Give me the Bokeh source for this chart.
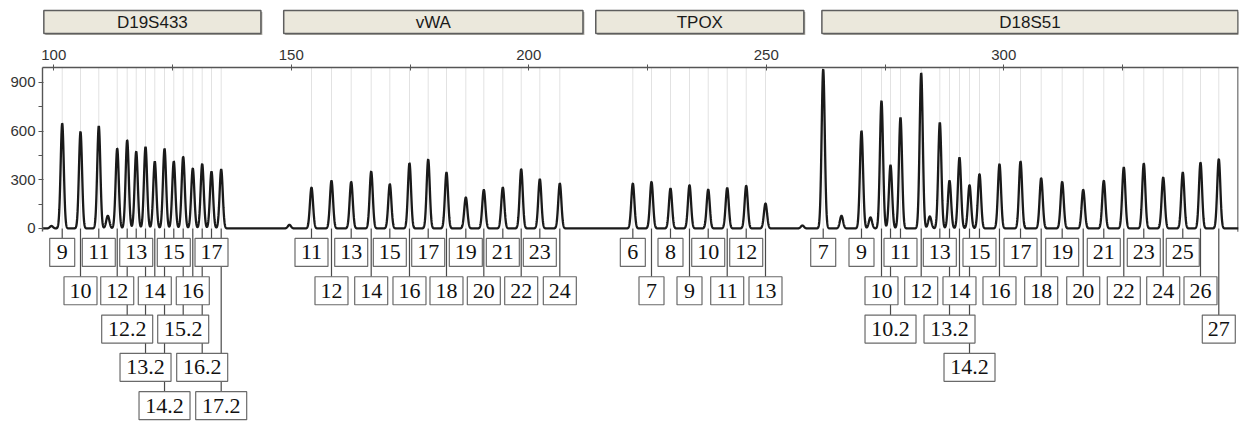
import numpy as np
from bokeh.plotting import figure
from bokeh.layouts import column
from bokeh.models import Range1d, FixedTicker
from bokeh.core.properties import value
from bokeh.embed import file_html
from bokeh.resources import INLINE

# ---------------- data ----------------
loci = ["D19S433", "vWA", "TPOX", "D18S51"]
locus_start = [97.9, 148.4, 214.1, 261.7]
locus_end = [143.6, 211.4, 257.9, 349.3]

d19_alleles = ["9", "10", "11", "12", "12.2", "13", "13.2", "14", "14.2", "15", "15.2", "16", "16.2", "17", "17.2"]
d19_sizes = [101.77, 105.62, 109.47, 113.35, 115.45, 117.35, 119.31, 121.26, 123.31, 125.26, 127.24, 129.26, 131.24, 133.2, 135.24]
d19_heights = [647, 596, 631, 493, 544, 474, 503, 413, 491, 413, 442, 370, 397, 351, 364]
d19_rows = [1, 2, 1, 2, 3, 1, 4, 2, 5, 1, 3, 2, 4, 1, 5]

vwa_alleles = ["11", "12", "13", "14", "15", "16", "17", "18", "19", "20", "21", "22", "23", "24"]
vwa_sizes = [154.25, 158.46, 162.61, 166.82, 170.74, 174.88, 178.82, 182.67, 186.74, 190.53, 194.53, 198.4, 202.32, 206.53]
vwa_heights = [252, 294, 287, 351, 273, 402, 425, 345, 191, 238, 252, 365, 304, 277]
vwa_rows = [1, 2, 1, 2, 1, 2, 1, 2, 1, 2, 1, 2, 1, 2]

tpox_alleles = ["6", "7", "8", "9", "10", "11", "12", "13"]
tpox_sizes = [221.9, 225.83, 229.83, 233.83, 237.77, 241.77, 245.77, 249.83]
tpox_heights = [277, 287, 246, 267, 240, 250, 263, 154]
tpox_rows = [1, 2, 1, 2, 1, 2, 1, 2]

d18_alleles = ["7", "9", "10", "10.2", "11", "12", "13", "13.2", "14", "14.2", "15", "16", "17", "18",
               "19", "20", "21", "22", "23", "24", "25", "26", "27"]
d18_sizes = [261.98, 270.04, 274.25, 276.15, 278.25, 282.61, 286.53, 288.57, 290.67, 292.78, 294.88, 299.09,
             303.52, 307.87, 312.29, 316.72, 321.05, 325.26, 329.47, 333.56, 337.68, 341.41, 345.26]
d18_heights = [981, 601, 786, 390, 684, 957, 653, 294, 437, 267, 335, 396, 413, 310, 287, 238, 294, 376,
               400, 314, 345, 406, 427]
d18_rows = [1, 1, 2, 3, 1, 2, 1, 3, 2, 4, 1, 2, 1, 2, 1, 2, 1, 2, 1, 2, 1, 2, 3]

# small non-allelic peaks / baseline bumps
artifact_sizes = [99.5, 111.37, 149.6, 257.6, 265.83, 271.93, 284.42]
artifact_heights = [15, 78, 22, 18, 78, 68, 74]

y_ticks = [0, 300, 600, 900]
y_minor = [150, 450, 750]
x_ticks = list(range(100, 350, 25))
x_labels = ["100", "", "150", "", "200", "", "250", "", "300", ""]

# ---------------- layout constants ----------------
W = 1240
TOP_H = 40
BOT_H = 381
BORDER_L = 42
BORDER_R = 2
BORDER_T = 27
X_START, X_END = 97.62, 349.41
Y_MIN, Y_MAX = -1190, 992
FRAME_H = BOT_H - BORDER_T
PPU = FRAME_H / (Y_MAX - Y_MIN)  # pixels per unit

ROW_FIRST = 10
ROW_PITCH = 38.3
BOX_H = 28
SERIF = value("Liberation Serif")
SANS = value("Liberation Sans")

xr = Range1d(X_START, X_END)

# ---------------- top: locus bar ----------------
top = figure(width=W, height=TOP_H, x_range=xr, y_range=Range1d(0, TOP_H),
             x_axis_location=None, y_axis_location=None, toolbar_location=None,
             output_backend="svg", min_border_left=BORDER_L, min_border_right=BORDER_R,
             min_border_top=0, min_border_bottom=0, outline_line_color=None)
top.grid.visible = False
top.quad(left=[s + 0.3 for s in locus_start], right=[e + 0.3 for e in locus_end],
         bottom=TOP_H - 34.5, top=TOP_H - 11.5, fill_color="#a9a79f", line_color=None)
top.quad(left=locus_start, right=locus_end, bottom=TOP_H - 33, top=TOP_H - 10,
         fill_color="#ebe8dc", line_color="#5e5e5e", line_width=1.5)
top.text(x=[(s + e) / 2 for s, e in zip(locus_start, locus_end)], y=[TOP_H - 21.5] * len(loci),
         text=loci, text_font=SANS, text_font_size="17px", text_color="#1a1a1a",
         text_align="center", text_baseline="middle")

# ---------------- bottom: electropherogram ----------------
p = figure(width=W, height=BOT_H, x_range=xr, y_range=Range1d(Y_MIN, Y_MAX),
           x_axis_location="above", y_axis_location="left", toolbar_location=None,
           output_backend="svg", min_border_left=BORDER_L, min_border_right=BORDER_R,
           min_border_top=BORDER_T, min_border_bottom=0, outline_line_color=None)
p.grid.visible = False

xa = p.xaxis[0]
xa.ticker = FixedTicker(ticks=x_ticks)
xa.major_label_overrides = {t: lab for t, lab in zip(x_ticks, x_labels)}
xa.major_tick_in = 3
xa.major_tick_out = 3
xa.minor_tick_line_color = None
xa.axis_line_color = "#555555"
xa.axis_line_width = 1.4
xa.major_tick_line_color = "#555555"
xa.major_label_text_font = "Liberation Sans"
xa.major_label_text_font_size = "15px"
xa.major_label_text_color = "#333333"
xa.major_label_standoff = 5

ya = p.yaxis[0]
ya.ticker = FixedTicker(ticks=y_ticks, minor_ticks=y_minor)
ya.bounds = (-20, Y_MAX)
ya.major_tick_in = 1
ya.major_tick_out = 4
ya.minor_tick_in = 0
ya.minor_tick_out = 4
ya.axis_line_color = "#555555"
ya.axis_line_width = 1.4
ya.major_tick_line_color = "#555555"
ya.minor_tick_line_color = "#555555"
ya.major_label_text_font = "Liberation Sans"
ya.major_label_text_font_size = "15px"
ya.major_label_text_color = "#333333"
ya.major_label_standoff = 3

all_sizes = d19_sizes + vwa_sizes + tpox_sizes + d18_sizes
all_heights = d19_heights + vwa_heights + tpox_heights + d18_heights
all_alleles = d19_alleles + vwa_alleles + tpox_alleles + d18_alleles
all_rows = d19_rows + vwa_rows + tpox_rows + d18_rows

# faint bin lines
p.segment(x0=all_sizes, x1=all_sizes, y0=[0] * len(all_sizes), y1=[Y_MAX] * len(all_sizes),
          line_color="#e2e2e2", line_width=1)

# right frame border
p.segment(x0=[X_END - 0.1], x1=[X_END - 0.1], y0=[-20], y1=[Y_MAX], line_color="#555555", line_width=1.4)

# trace built from the peak table
xs = np.arange(X_START, X_END, 0.03)
ys = np.zeros_like(xs)
sigma = 0.33
for pos, h in zip(all_sizes + artifact_sizes, all_heights + artifact_heights):
    ys += h * np.exp(-0.5 * ((xs - pos) / sigma) ** 2)
p.line(xs, ys, line_color="#1a1a1a", line_width=2.3)

# allele labels
tops_px = [ROW_FIRST + ROW_PITCH * (r - 1) for r in all_rows]
row_top = [-t / PPU for t in tops_px]
row_mid = [-(t + BOX_H / 2) / PPU for t in tops_px]
box_w = [{1: 25, 2: 33}.get(len(a), 51) for a in all_alleles]

p.segment(x0=all_sizes, x1=all_sizes, y0=[0] * len(all_sizes), y1=row_top,
          line_color="#4a4a4a", line_width=1.2)
p.rect(x=all_sizes, y=row_mid, width=box_w, height=BOX_H, width_units="screen", height_units="screen",
       fill_color="white", line_color="#6a6a6a", line_width=1.2)
p.text(x=all_sizes, y=row_mid, text=all_alleles, text_font=SERIF, text_font_size="22px",
       text_color="#111111", text_align="center", text_baseline="middle")

layout = column(top, p, spacing=0)
open("out.html", "w").write(file_html(layout, INLINE))
